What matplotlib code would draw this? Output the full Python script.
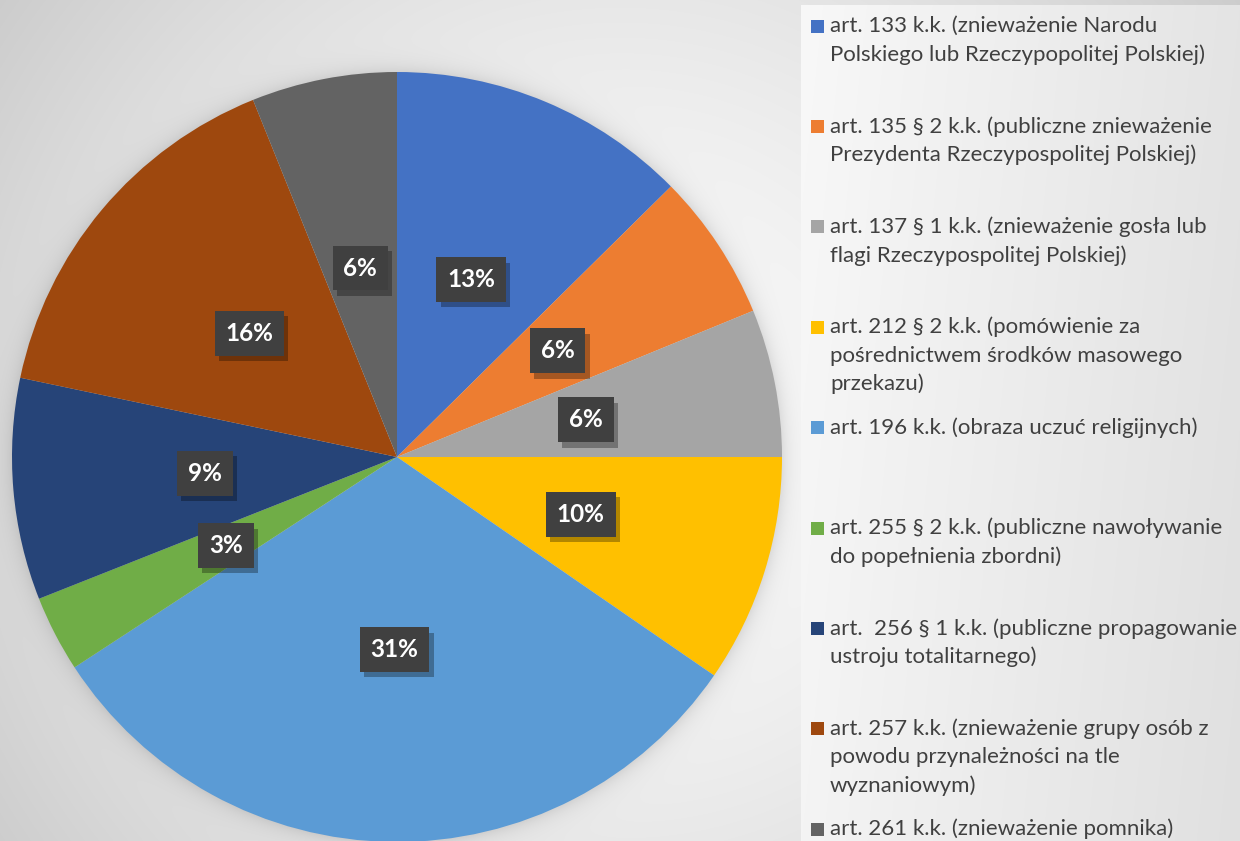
import numpy as np
import matplotlib
matplotlib.use("Agg")
import matplotlib.pyplot as plt
import matplotlib.patheffects as pe

# ---- data ----
categories = [
    "art. 133 k.k. (znieważenie Narodu\nPolskiego lub Rzeczypopolitej Polskiej)",
    "art. 135 § 2 k.k. (publiczne znieważenie\nPrezydenta Rzeczypospolitej Polskiej)",
    "art. 137 § 1 k.k. (znieważenie gosła lub\nflagi Rzeczypospolitej Polskiej)",
    "art. 212 § 2 k.k. (pomówienie za\npośrednictwem środków masowego\nprzekazu)",
    "art. 196 k.k. (obraza uczuć religijnych)",
    "art. 255 § 2 k.k. (publiczne nawoływanie\ndo popełnienia zbordni)",
    "art.  256 § 1 k.k. (publiczne propagowanie\nustroju totalitarnego)",
    "art. 257 k.k. (znieważenie grupy osób z\npowodu przynależności na tle\nwyznaniowym)",
    "art. 261 k.k. (znieważenie pomnika)",
]
shares = [12.6, 6.2, 6.2, 9.6, 31.2, 3.2, 9.3, 15.6, 6.1]
colors = ["#4472C4", "#ED7D31", "#A5A5A5", "#FFC000", "#5B9BD5",
          "#70AD47", "#264478", "#9E480E", "#636363"]

W, H = 1240, 841
fig = plt.figure(figsize=(W / 100, H / 100), dpi=100)
ax = fig.add_axes([0, 0, 1, 1])
ax.set_xlim(0, W)
ax.set_ylim(0, H)
ax.axis("off")

# pie geometry (pixels, y measured from bottom)
cx, cy, R = 397, H - 457, 385

# ---- background image: radial gradient + pie shadow + legend panel ----
yy, xx = np.mgrid[0:H, 0:W]          # row 0 = top
d = np.hypot(xx - 620, yy - 430) / 760.0
bg = 250 - 46 * np.clip(d, 0, 1.2) ** 1.6
dp = np.hypot(xx - cx, yy - 457) - R
shadow = np.where(dp > 0, np.exp(-dp / 9.0), 1.0)
bg = bg * (1 - 0.10 * shadow)
panel = (xx >= 801) & (yy >= 5)
pg = 248 - 20 * ((xx - 801) / (W - 801)) - 4 * (yy / H)
bg = np.where(panel, pg, bg)
img = np.clip(bg, 0, 255).astype(np.uint8)
img = np.dstack([img, img, img])
ax.imshow(img, extent=[0, W, 0, H], origin="upper", zorder=0, aspect="auto")

# ---- pie ----
wedges, texts, autotexts = ax.pie(
    shares, colors=colors, startangle=90, counterclock=False,
    center=(cx, cy), radius=R, autopct="%.0f%%", pctdistance=0.5,
    wedgeprops=dict(linewidth=0),
    textprops=dict(color="white", fontsize=17.5, fontweight="bold", family="Lato"),
)
for w in wedges:
    w.set_zorder(2)
ax.set_xlim(0, W)
ax.set_ylim(0, H)
ax.set_aspect("auto")

for t in autotexts:
    t.set_zorder(5)
    t.set_bbox(dict(boxstyle="square,pad=0.45", facecolor="#404040", edgecolor="none"))
    t.get_bbox_patch().set_path_effects(
        [pe.SimplePatchShadow(offset=(3, -4), shadow_rgbFace="black", alpha=0.3),
         pe.Normal()])

# ---- legend ----
y0, step, lh = 26, 100.4, 28.5
for i, (lab, col) in enumerate(zip(categories, colors)):
    ytop = y0 + i * step
    ax.add_patch(plt.Rectangle((811, H - ytop - 6.5), 13, 13, facecolor=col,
                               edgecolor="none", zorder=3))
    for j, line in enumerate(lab.split("\n")):
        ax.text(830, H - (ytop + j * lh), line, fontsize=16, family="Lato",
                color="#404040", ha="left", va="center", zorder=3)

fig.savefig("out.png", dpi=100)
